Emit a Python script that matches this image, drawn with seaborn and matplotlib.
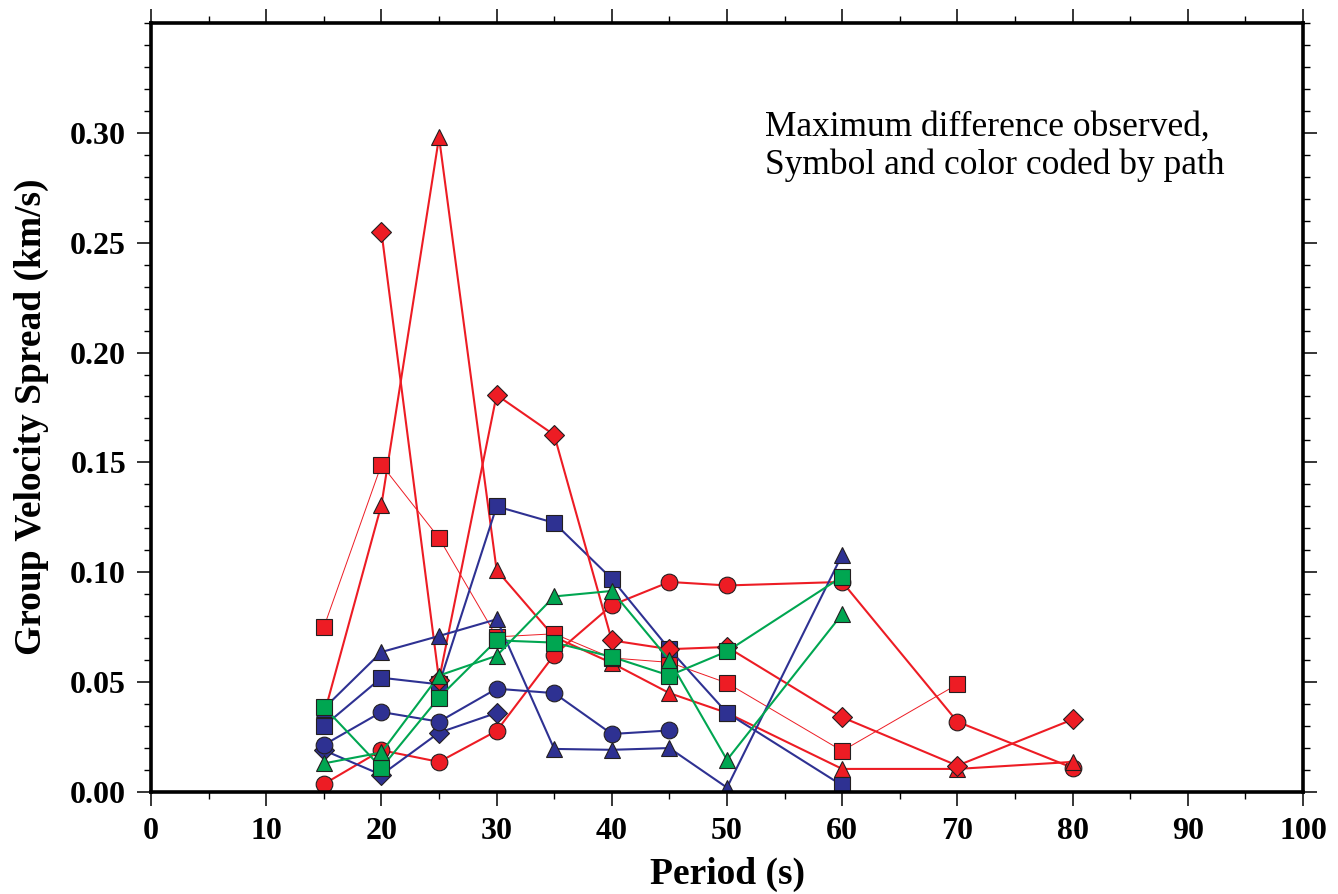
import numpy as np
import pandas as pd
import matplotlib
matplotlib.use("Agg")
import matplotlib.pyplot as plt
import seaborn as sns
from matplotlib.ticker import MultipleLocator, FixedLocator, FormatStrFormatter

# period (s) and group velocity spread (km/s), one list per path
red_circle_x = [15, 20, 25, 30, 35, 40, 45, 50, 60, 70, 80]
red_circle_y = [0.0036, 0.019, 0.0137, 0.0278, 0.0624, 0.085, 0.0956, 0.094, 0.0956, 0.032, 0.011]

red_triangle_x = [15, 20, 25, 30, 35, 40, 45, 50, 60, 70, 80]
red_triangle_y = [0.035, 0.1307, 0.298, 0.101, 0.0706, 0.0587, 0.045, 0.036, 0.0105, 0.0105, 0.0137]

red_square_x = [15, 20, 25, 30, 35, 40, 45, 50, 60, 70]
red_square_y = [0.075, 0.149, 0.1156, 0.0706, 0.072, 0.061, 0.059, 0.0496, 0.0187, 0.049]

red_diamond_x = [20, 25, 30, 35, 40, 45, 50, 60, 70, 80]
red_diamond_y = [0.255, 0.051, 0.1807, 0.1625, 0.069, 0.065, 0.066, 0.034, 0.012, 0.033]

blue_square_x = [15, 20, 25, 30, 35, 40, 45, 50, 60]
blue_square_y = [0.030, 0.052, 0.049, 0.130, 0.1225, 0.097, 0.065, 0.036, 0.003]

blue_triangle_x = [15, 20, 25, 30, 35, 40, 45, 50, 60]
blue_triangle_y = [0.038, 0.0637, 0.071, 0.0786, 0.0196, 0.0192, 0.020, 0.002, 0.108]

blue_circle_x = [15, 20, 25, 30, 35, 40, 45]
blue_circle_y = [0.0214, 0.0364, 0.032, 0.047, 0.045, 0.0264, 0.028]

blue_diamond_x = [15, 20, 25, 30]
blue_diamond_y = [0.019, 0.0078, 0.027, 0.036]

green_square_x = [15, 20, 25, 30, 35, 40, 45, 50, 60]
green_square_y = [0.0387, 0.011, 0.043, 0.069, 0.068, 0.0615, 0.053, 0.064, 0.098]

green_triangle_x = [15, 20, 25, 30, 35, 40, 45, 50, 60]
green_triangle_y = [0.013, 0.018, 0.053, 0.062, 0.089, 0.0915, 0.060, 0.0146, 0.081]

y_labelled = [0.00, 0.05, 0.10, 0.15, 0.20, 0.25, 0.30]

RED = "#ed1c24"
BLUE = "#2e3192"
GREEN = "#00a651"

# (x, y, color, marker, markersize, linewidth) in drawing order
paths = [
    (red_circle_x, red_circle_y, RED, "o", 12, 1.5),
    (red_triangle_x, red_triangle_y, RED, "^", 11, 1.5),
    (red_square_x, red_square_y, RED, "s", 11, 0.7),
    (blue_square_x, blue_square_y, BLUE, "s", 11, 1.5),
    (red_diamond_x, red_diamond_y, RED, "D", 10.5, 1.5),
    (blue_triangle_x, blue_triangle_y, BLUE, "^", 11, 1.5),
    (blue_diamond_x, blue_diamond_y, BLUE, "D", 10.5, 1.5),
    (blue_circle_x, blue_circle_y, BLUE, "o", 12, 1.5),
    (green_square_x, green_square_y, GREEN, "s", 11, 1.5),
    (green_triangle_x, green_triangle_y, GREEN, "^", 11, 1.5),
]

sns.set_style("ticks")
plt.rcParams["font.family"] = ["Liberation Serif", "DejaVu Serif"]
plt.rcParams["text.color"] = "black"
plt.rcParams["axes.labelcolor"] = "black"
plt.rcParams["xtick.color"] = "black"
plt.rcParams["ytick.color"] = "black"

fig = plt.figure(figsize=(13.38, 8.94), dpi=100)
ax = fig.add_axes([0.1129, 0.1141, 0.8609, 0.8602])

for px, py, col, mk, ms, lw in paths:
    df = pd.DataFrame({"period": px, "spread": py})
    sns.lineplot(data=df, x="period", y="spread", ax=ax, color=col, marker=mk,
                 markersize=ms, linewidth=lw, markeredgecolor="#231f20",
                 markeredgewidth=0.8, errorbar=None, sort=True)

ax.set_xlim(0, 100)
ax.set_ylim(0, 0.35)
ax.xaxis.set_major_locator(MultipleLocator(10))
ax.xaxis.set_minor_locator(MultipleLocator(5))
ax.yaxis.set_major_locator(FixedLocator(y_labelled))
ax.yaxis.set_minor_locator(MultipleLocator(0.01))
ax.yaxis.set_major_formatter(FormatStrFormatter("%.2f"))

for s in ax.spines.values():
    s.set_visible(True)
    s.set_linewidth(2.6)
    s.set_color("black")

ax.tick_params(which="both", direction="out", top=True, right=True,
               labeltop=False, labelright=False, color="black")
ax.tick_params(which="major", length=10, width=1.1, labelsize=23, pad=8)
ax.tick_params(which="minor", length=5, width=1.0)
for lab in ax.get_xticklabels() + ax.get_yticklabels():
    lab.set_fontweight("bold")

ax.set_xlabel("Period (s)", fontsize=27, fontweight="bold")
ax.set_ylabel("Group Velocity Spread (km/s)", fontsize=27, fontweight="bold")
ax.xaxis.set_label_coords(0.5, -0.085)
ax.yaxis.set_label_coords(-0.089, 0.488)

ax.text(53.3, 0.2985, "Maximum difference observed,", fontsize=25.5, va="baseline")
ax.text(53.3, 0.2812, "Symbol and color coded by path", fontsize=25.5, va="baseline")

fig.savefig("out.png", dpi=100)
